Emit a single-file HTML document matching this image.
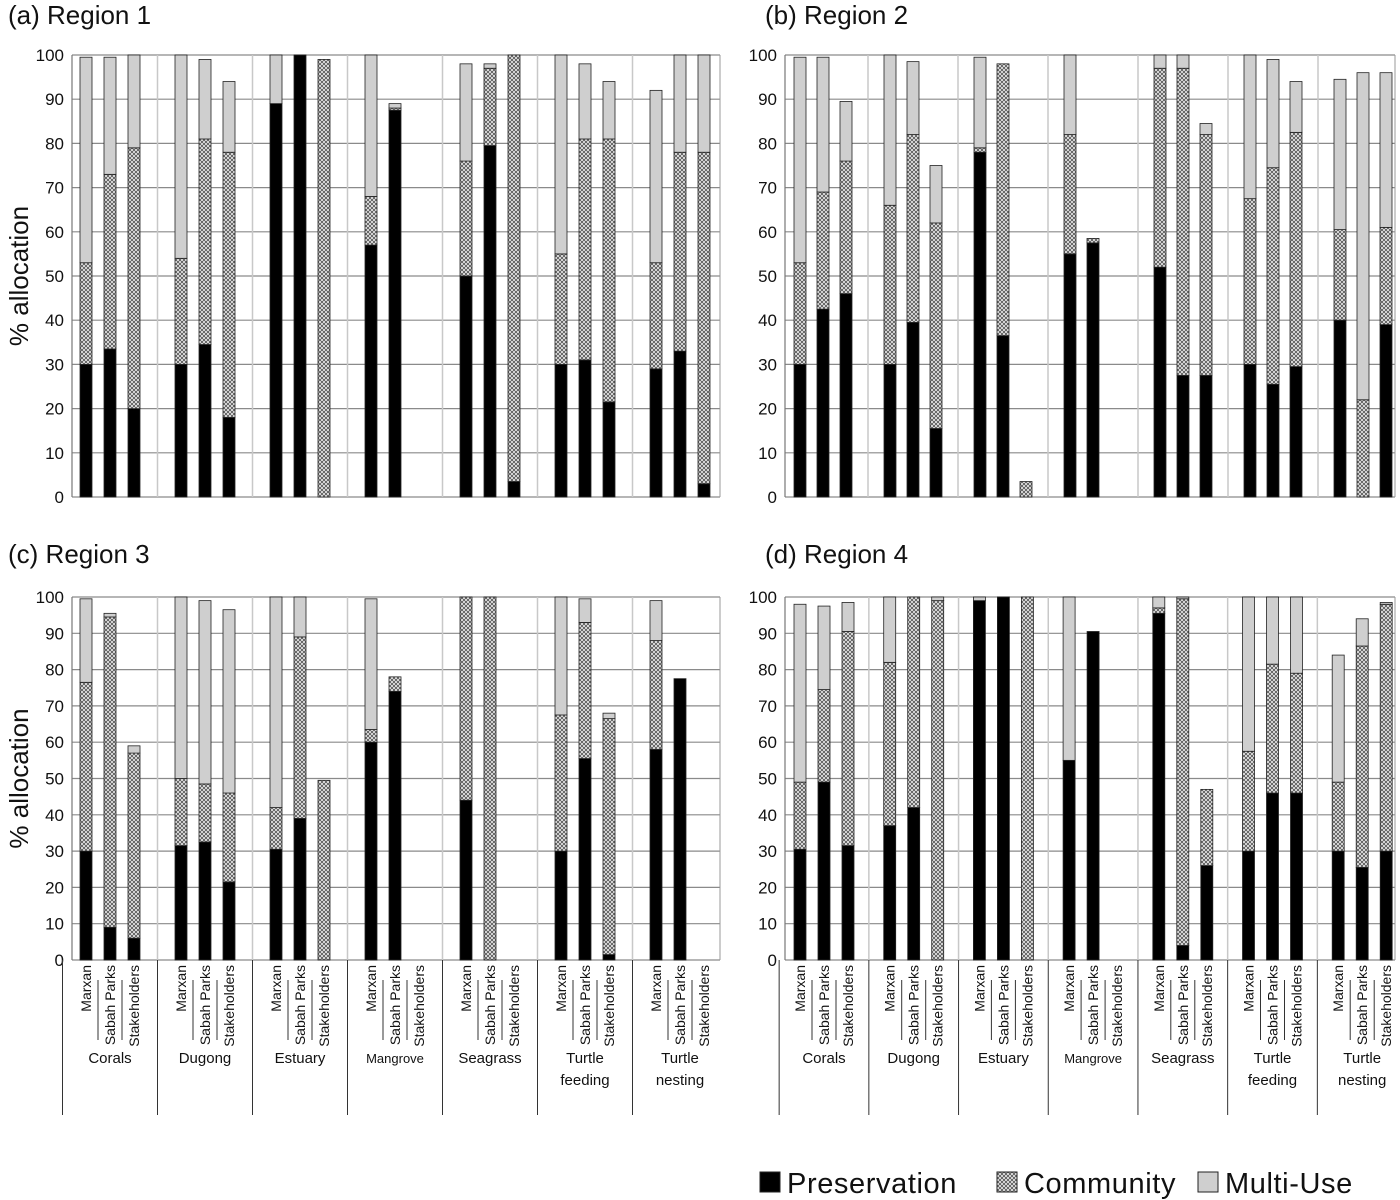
<!DOCTYPE html>
<html><head><meta charset="utf-8"><style>
body{margin:0;background:#fff;}
svg{display:block;font-family:"Liberation Sans",Arial,sans-serif;}
</style></head><body>
<svg id="chart" width="1400" height="1200" viewBox="0 0 1400 1200">
<defs>
<pattern id="hatch" width="4" height="4" patternUnits="userSpaceOnUse">
<rect width="4" height="4" fill="#f2f2f2"/>
<path d="M0,0 L4,4 M4,0 L0,4" stroke="#555" stroke-width="0.9"/>
</pattern>
</defs>
</svg>
<script>
// Categories
const groups = ["Corals","Dugong","Estuary","Mangrove","Seagrass","Turtle feeding","Turtle nesting"];
const sources = ["Marxan","Sabah Parks","Stakeholders"];
const yTicks = [0,10,20,30,40,50,60,70,80,90,100];
const legendLabels = ["Preservation","Community","Multi-Use"];
// Cumulative tops (preservation top, community top, multi-use top); null = no bar
const r1Pres  = [30,33.5,20, 30,34.5,18, 89,100,0, 57,87.5,null, 50,79.5,3.5, 30,31,21.5, 29,33,3];
const r1Comm  = [53,73,79, 54,81,78, 89,100,99, 68,88,null, 76,97,100, 55,81,81, 53,78,78];
const r1Multi = [99.5,99.5,100, 100,99,94, 100,100,99, 100,89,null, 98,98,100, 100,98,94, 92,100,100];
const r2Pres  = [30,42.5,46, 30,39.5,15.5, 78,36.5,0, 55,57.5,null, 52,27.5,27.5, 30,25.5,29.5, 40,0,39];
const r2Comm  = [53,69,76, 66,82,62, 79,98,3.5, 82,58.5,null, 97,97,82, 67.5,74.5,82.5, 60.5,22,61];
const r2Multi = [99.5,99.5,89.5, 100,98.5,75, 99.5,98,3.5, 100,58.5,null, 100,100,84.5, 100,99,94, 94.5,96,96];
const r3Pres  = [30,9,6, 31.5,32.5,21.5, 30.5,39,0, 60,74,null, 44,0,null, 30,55.5,1.5, 58,77.5,null];
const r3Comm  = [76.5,94.5,57, 50,48.5,46, 42,89,49.5, 63.5,78,null, 100,100,null, 67.5,93,66.5, 88,77.5,null];
const r3Multi = [99.5,95.5,59, 100,99,96.5, 100,100,49.5, 99.5,78,null, 100,100,null, 100,99.5,68, 99,77.5,null];
const r4Pres  = [30.5,49,31.5, 37,42,0, 99,100,0, 55,90.5,null, 95.5,4,26, 30,46,46, 30,25.5,30];
const r4Comm  = [49,74.5,90.5, 82,100,99, 99,100,100, 55,90.5,null, 97,99.5,47, 57.5,81.5,79, 49,86.5,98];
const r4Multi = [98,97.5,98.5, 100,100,100, 100,100,100, 100,90.5,null, 100,100,47, 100,100,100, 84,94,98.5];

const svg = document.getElementById('chart');
const NS = 'http://www.w3.org/2000/svg';
function mk(tag, attrs, parent){const e=document.createElementNS(NS,tag);for(const k in attrs)e.setAttribute(k,attrs[k]);(parent||svg).appendChild(e);return e;}

const panels = [
 {title:"(a) Region 1", tx:8, ty:24, left:72, right:720, top:55, bot:497, first:86, gStep:95, bStep:24, labels:false, pres:r1Pres, comm:r1Comm, multi:r1Multi, yt:true},
 {title:"(b) Region 2", tx:765, ty:24, left:785, right:1395, top:55, bot:497, first:800, gStep:90, bStep:23, labels:false, pres:r2Pres, comm:r2Comm, multi:r2Multi, yt:false},
 {title:"(c) Region 3", tx:8, ty:563, left:72, right:720, top:597, bot:960, first:86, gStep:95, bStep:24, labels:true, pres:r3Pres, comm:r3Comm, multi:r3Multi, yt:true},
 {title:"(d) Region 4", tx:765, ty:563, left:785, right:1395, top:597, bot:960, first:800, gStep:89.7, bStep:24, labels:true, pres:r4Pres, comm:r4Comm, multi:r4Multi, yt:false}
];

panels.forEach((p,pi)=>{
  const g = mk('g',{});
  
  
  const yS = v => p.bot - (v/100)*(p.bot-p.top);
  const xS = (gi,bi) => p.first + gi*p.gStep + bi*p.bStep;
  const t = mk('text',{x:p.tx,y:p.ty,'font-size':26,fill:'#111'},g); t.textContent=p.title;
   
  if(p.yt){
    const cy=(p.top+p.bot)/2;
    const yl = mk('text',{x:28,y:cy,'font-size':26,'text-anchor':'middle',transform:`rotate(-90 28 ${cy})`,fill:'#111'},g);
    yl.textContent='% allocation';
     
  }
  yTicks.forEach(v=>{
    const y=yS(v);
    const gl = mk('line',{x1:p.left,x2:p.right,y1:y,y2:y,stroke:'#8a8a8a','stroke-width':1.2},g);
     
    const tl = mk('text',{x:p.left-8,y:y+6,'font-size':17,'text-anchor':'end',fill:'#111'},g);
    tl.textContent=v;
     
  });
  for(let gi=1;gi<groups.length;gi++){
    const x = xS(gi,0) - (p.gStep-2*p.bStep)/2;
    const s = mk('line',{x1:x,x2:x,y1:p.top,y2:p.bot,stroke:'#c8c8c8','stroke-width':1.5},g);
     
  }
  mk('line',{x1:p.left,x2:p.left,y1:p.top,y2:p.bot,stroke:'#777','stroke-width':1.2},g);
  mk('line',{x1:p.right,x2:p.right,y1:p.top,y2:p.bot,stroke:'#999','stroke-width':1},g);
  groups.forEach((gn,gi)=>{
    sources.forEach((sn,bi)=>{
      const i=gi*3+bi;
      if(p.pres[i]===null) return;
      const x=xS(gi,bi)-6, w=12;
      const segs=[[0,p.pres[i],'#000','preservation'],[p.pres[i],p.comm[i],'url(#hatch)','community'],[p.comm[i],p.multi[i],'#cfcfcf','multi-use']];
      segs.forEach(s=>{
        if(s[1]-s[0]<=0) return;
        const r=mk('rect',{x:x,y:yS(s[1]),width:w,height:yS(s[0])-yS(s[1]),fill:s[2],stroke:'#222','stroke-width':0.8},g);
         
      });
    });
  });
  if(p.labels){
    groups.forEach((gn,gi)=>{
      sources.forEach((sn,bi)=>{
        const x=xS(gi,bi);
        const tx=mk('text',{x:x+5,y:965,'font-size':14,'text-anchor':'end',transform:`rotate(-90 ${x+5} 965)`,fill:'#111'},g);
        tx.textContent=sn;
         
        if(bi>0){const lx=x-p.bStep/2; mk('line',{x1:lx,x2:lx,y1:980,y2:1040,stroke:'#333','stroke-width':1},g);}
      });
      const lx = xS(gi,0) - (p.gStep-2*p.bStep)/2;
      mk('line',{x1:lx,x2:lx,y1:960,y2:1115,stroke:'#333','stroke-width':1},g);
      const cx=xS(gi,1);
      const parts=gn.startsWith('Turtle')?['Turtle',gn.split(' ')[1]]:[gn];
      parts.forEach((pt,k)=>{
        const gt=mk('text',{x:cx,y:1063+k*22,'font-size':gn==='Mangrove'?13:15,'text-anchor':'middle',fill:'#111'},g);
        gt.textContent=pt;
         
      });
    });
  }
});
const lg = mk('g',{});
 
const lx=[760,997,1198], fills=['#000','url(#hatch)','#cfcfcf'];
legendLabels.forEach((l,i)=>{
  const r=mk('rect',{x:lx[i],y:1172,width:20,height:20,fill:fills[i],stroke:'#222','stroke-width':1},lg);
   
  const t=mk('text',{x:lx[i]+27,y:1193,'font-size':29,'letter-spacing':0.6,fill:'#111'},lg);
  t.textContent=l;
   
});
</script>
</body></html>
